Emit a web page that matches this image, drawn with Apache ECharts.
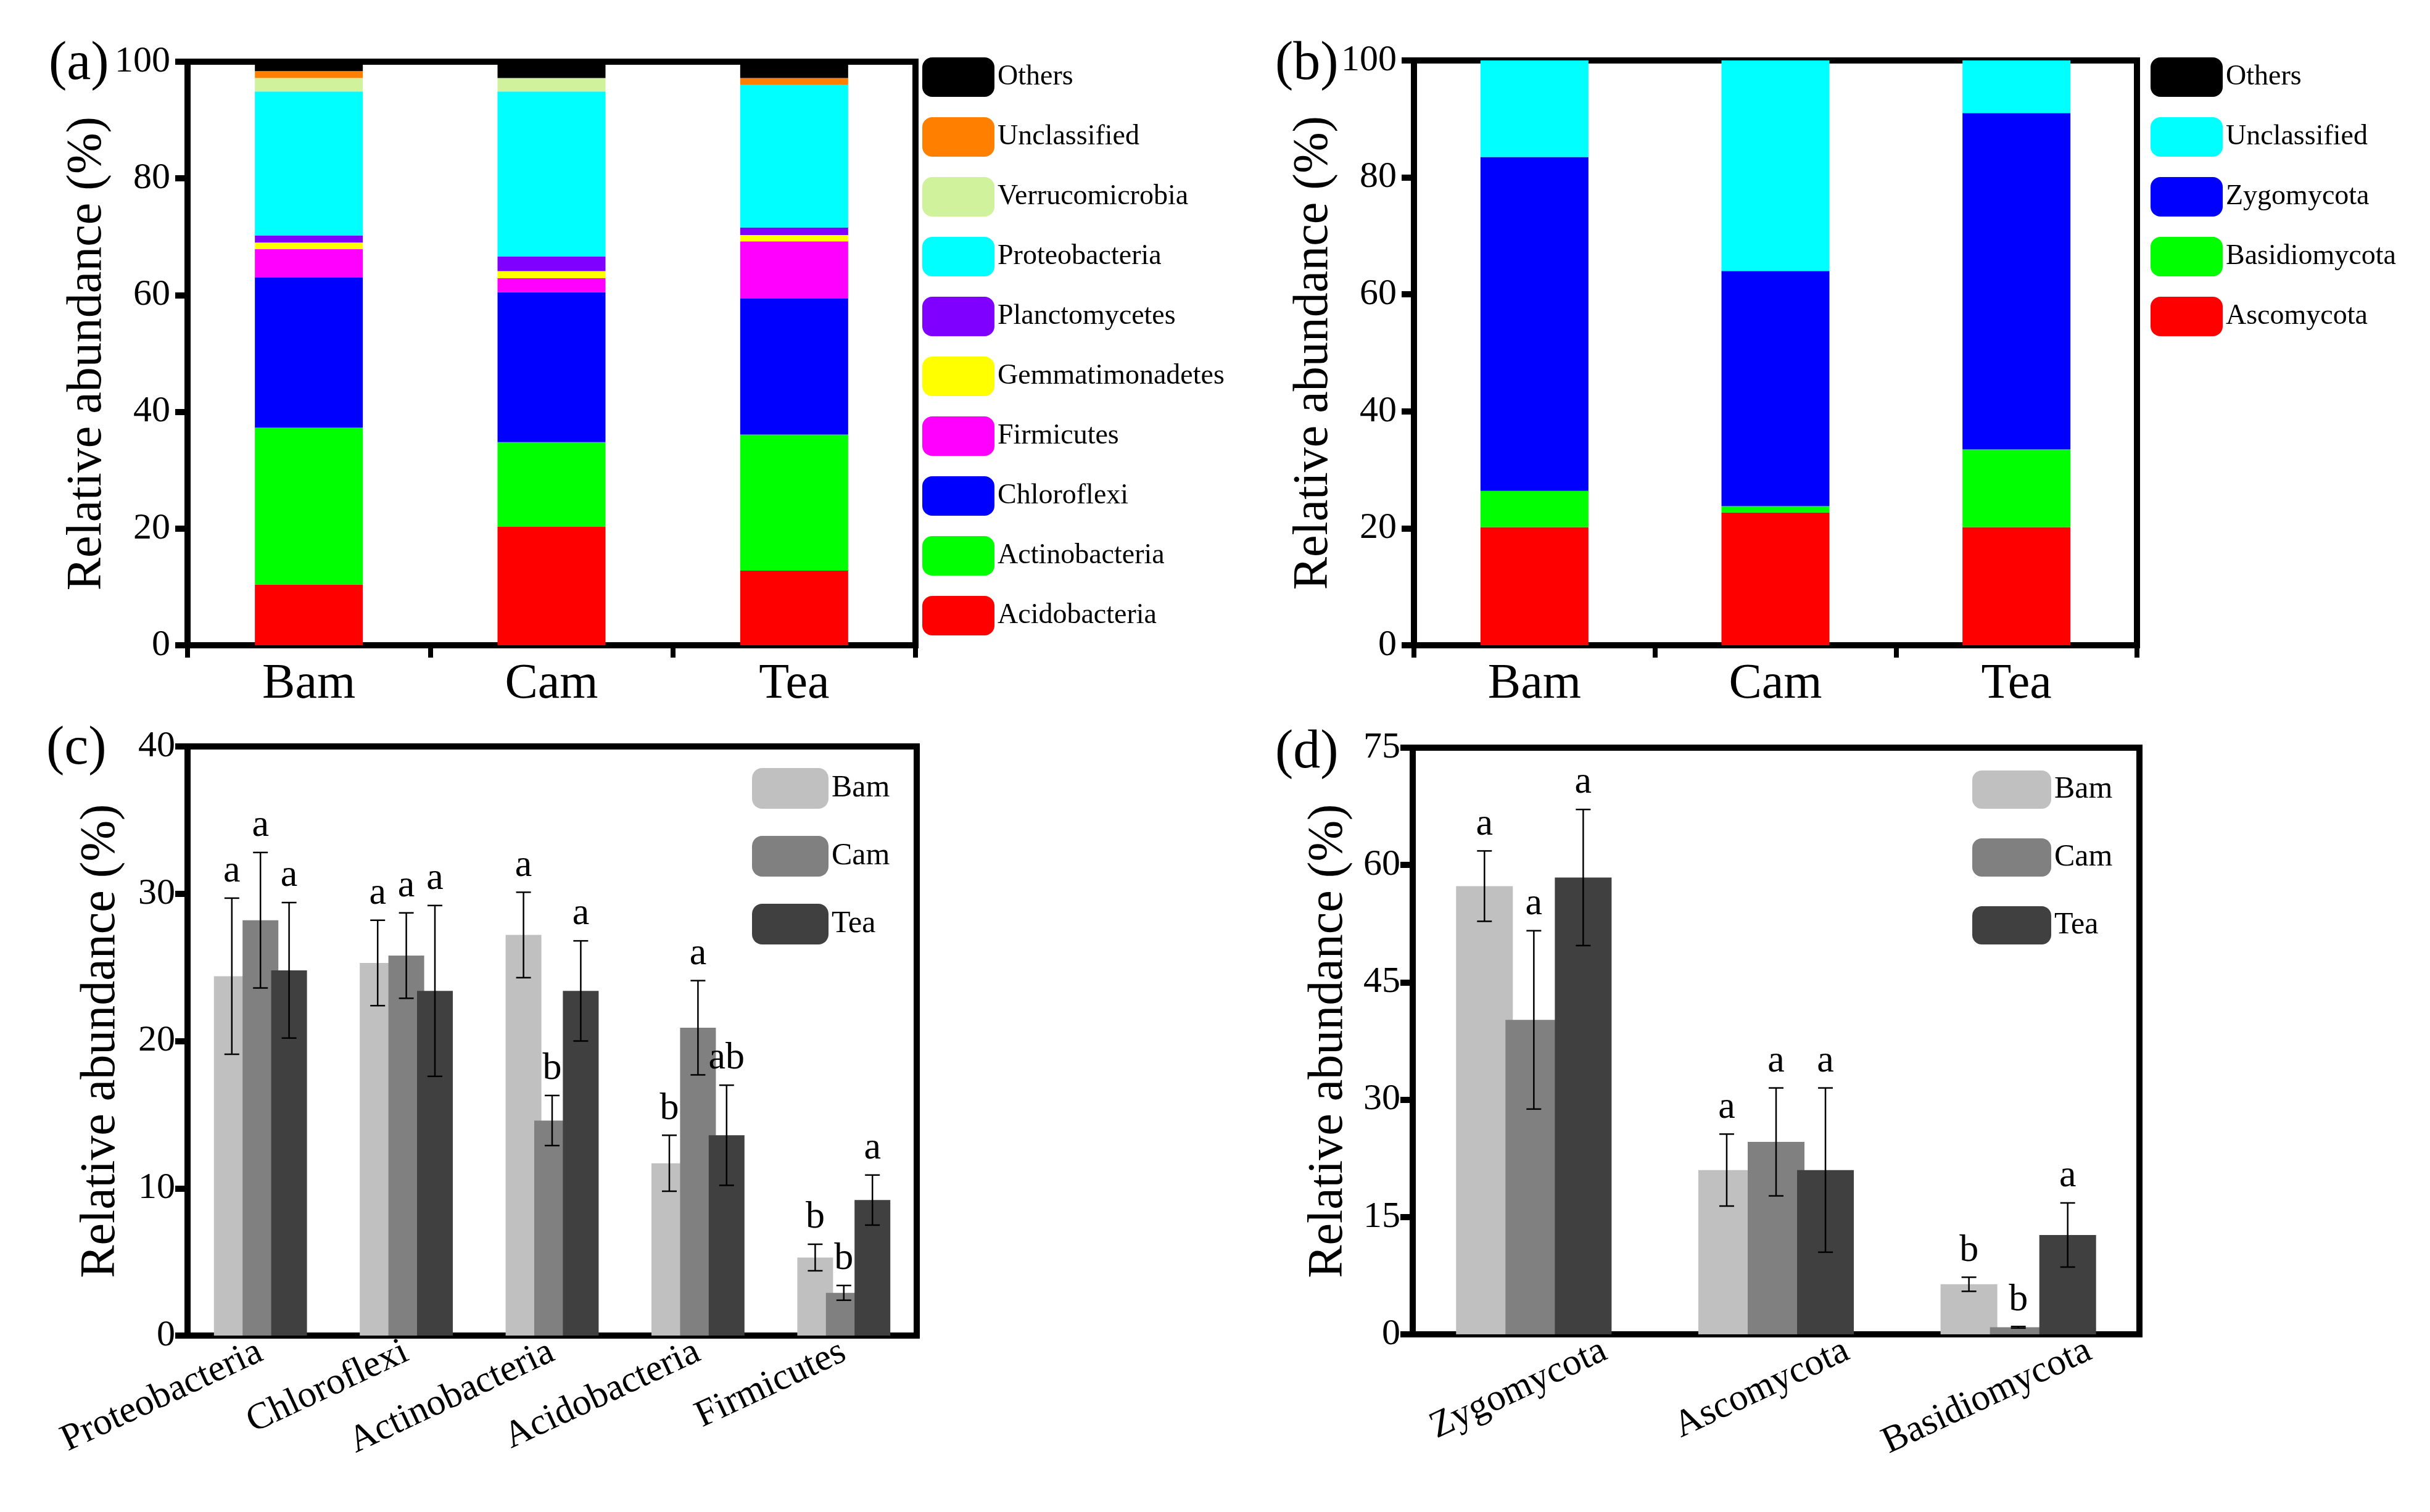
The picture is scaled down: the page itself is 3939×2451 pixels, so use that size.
<!DOCTYPE html>
<html>
<head>
<meta charset="utf-8">
<script src="https://cdn.jsdelivr.net/npm/echarts@6/dist/echarts.min.js"></script>
<style>
  html, body { margin: 0; padding: 0; background: #fff; }
  #main { width: 3939px; height: 2451px; }
</style>
</head>
<body>
<div id="main"></div>
<script>
var groups = ['Bam', 'Cam', 'Tea'];

// (a) bacterial phyla, stacked bottom -> top
var bacPhyla = ['Acidobacteria', 'Actinobacteria', 'Chloroflexi', 'Firmicutes', 'Gemmatimonadetes',
    'Planctomycetes', 'Proteobacteria', 'Verrucomicrobia', 'Unclassified', 'Others'];
var bacColors = ['#ff0000', '#00ff00', '#0000ff', '#ff00ff', '#ffff00',
    '#8000ff', '#00ffff', '#d0f29c', '#ff8000', '#000000'];
var bacBam = [10.4, 26.9, 25.7, 4.9, 1.1, 1.2, 24.7, 2.3, 1.2, 1.6];
var bacCam = [20.3, 14.5, 25.7, 2.4, 1.2, 2.5, 28.3, 2.3, 0, 2.8];
var bacTea = [12.8, 23.3, 23.3, 9.8, 1.1, 1.3, 24.4, 0, 1.2, 2.8];

// (b) fungal phyla, stacked bottom -> top
var fungPhyla = ['Ascomycota', 'Basidiomycota', 'Zygomycota', 'Unclassified', 'Others'];
var fungColors = ['#ff0000', '#00ff00', '#0000ff', '#00ffff', '#000000'];
var fungBam = [20.2, 6.2, 57.1, 16.5, 0];
var fungCam = [22.7, 1.1, 40.2, 36.0, 0];
var fungTea = [20.2, 13.3, 57.5, 9.0, 0];

// (c) dominant bacterial phyla, mean / sd / letters
var bacTop = ['Proteobacteria', 'Chloroflexi', 'Actinobacteria', 'Acidobacteria', 'Firmicutes'];
var cBam = [24.4, 25.3, 27.2, 11.7, 5.3];
var cBamSd = [5.3, 2.9, 2.9, 1.9, 0.9];
var cBamSig = ['a', 'a', 'a', 'b', 'b'];
var cCam = [28.2, 25.8, 14.6, 20.9, 2.9];
var cCamSd = [4.6, 2.9, 1.7, 3.2, 0.5];
var cCamSig = ['a', 'a', 'b', 'a', 'b'];
var cTea = [24.8, 23.4, 23.4, 13.6, 9.2];
var cTeaSd = [4.6, 5.8, 3.4, 3.4, 1.7];
var cTeaSig = ['a', 'a', 'a', 'ab', 'a'];

// (d) dominant fungal phyla
var fungTop = ['Zygomycota', 'Ascomycota', 'Basidiomycota'];
var dBam = [57.3, 21.0, 6.4];
var dBamSd = [4.5, 4.6, 0.9];
var dBamSig = ['a', 'a', 'b'];
var dCam = [40.2, 24.6, 0.9];
var dCamSd = [11.4, 6.9, 0.1];
var dCamSig = ['a', 'a', 'b'];
var dTea = [58.4, 21.0, 12.7];
var dTeaSd = [8.7, 10.5, 4.1];
var dTeaSig = ['a', 'a', 'a'];

var grayColors = ['#c0c0c0', '#808080', '#404040'];

var FONT = '"Liberation Serif", "Times New Roman", serif';
var chart = echarts.init(document.getElementById('main'));

function frameGrid(left, top, width, height) {
    return {
        left: left, top: top, width: width, height: height,
        show: true, borderColor: '#000', borderWidth: 10, backgroundColor: 'transparent'
    };
}

function yAxisOf(gridIndex, max, interval, gap, margin) {
    return {
        type: 'value', gridIndex: gridIndex, min: 0, max: max, interval: interval,
        name: 'Relative abundance (%)', nameLocation: 'middle', nameGap: gap,
        nameTextStyle: { fontFamily: FONT, fontSize: 80, color: '#000' },
        splitLine: { show: false },
        axisLine: { show: true, lineStyle: { color: '#000', width: 10 } },
        axisTick: { show: true, length: 20, lineStyle: { color: '#000', width: 10 } },
        axisLabel: { fontFamily: FONT, fontSize: 60, color: '#000', margin: margin }
    };
}

function stackSeries(names, colors, rows, axis, stack, prefix) {
    return names.map(function (name, k) {
        return {
            name: prefix + name, type: 'bar', stack: stack,
            xAxisIndex: axis, yAxisIndex: axis, barWidth: 175,
            itemStyle: { color: colors[k] },
            data: rows.map(function (r) { return r[k]; })
        };
    });
}

// error bars + significance letters on grouped bars
function errorSeries(axis, means, sds, sigs, slot, step) {
    return {
        type: 'custom', xAxisIndex: axis, yAxisIndex: axis, z: 10, silent: true,
        data: means.map(function (m, i) { return [i, m + sds[i], m - sds[i]]; }),
        encode: { x: 0, y: [1, 2] },
        renderItem: function (params, api) {
            var hi = api.coord([api.value(0), api.value(1)]);
            var lo = api.coord([api.value(0), api.value(2)]);
            var x = hi[0] + slot * step;
            var cap = 12;
            var st = { stroke: '#000', lineWidth: 2.5 };
            return {
                type: 'group', children: [
                    { type: 'line', shape: { x1: x, y1: hi[1], x2: x, y2: lo[1] }, style: st },
                    { type: 'line', shape: { x1: x - cap, y1: hi[1], x2: x + cap, y2: hi[1] }, style: st },
                    { type: 'line', shape: { x1: x - cap, y1: lo[1], x2: x + cap, y2: lo[1] }, style: st },
                    {
                        type: 'text', x: x, y: hi[1] - 12,
                        style: {
                            text: sigs[params.dataIndex], fill: '#000', fontSize: 62,
                            fontFamily: FONT, align: 'center', verticalAlign: 'bottom'
                        }
                    }
                ]
            };
        }
    };
}

function groupSeries(axis, lists, bw, gap) {
    var out = [];
    lists.forEach(function (l, i) {
        out.push({
            name: groups[i], type: 'bar', xAxisIndex: axis, yAxisIndex: axis,
            barWidth: bw, barGap: gap, itemStyle: { color: grayColors[i] },
            data: l.mean
        });
    });
    var step = bw * (1 + parseFloat(gap) / 100);
    lists.forEach(function (l, i) {
        out.push(errorSeries(axis, l.mean, l.sd, l.sig, i - 1, step));
    });
    return out;
}

var catLabel = { fontFamily: FONT, fontSize: 80, color: '#000', margin: 24 };
var rotLabel = { fontFamily: FONT, fontSize: 61, color: '#000', margin: 24, rotate: 25, interval: 0 };
var thickLine = { show: true, lineStyle: { color: '#000', width: 10 } };

var legendBase = {
    orient: 'vertical', selectedMode: false, icon: 'roundRect',
    textStyle: { fontFamily: FONT, fontSize: 46, color: '#000' }
};

var option = {
    backgroundColor: '#fff',
    animation: false,
    textStyle: { fontFamily: FONT },
    title: [
        { text: '(a)', left: 74, top: 56 },
        { text: '(b)', left: 2062, top: 56 },
        { text: '(c)', left: 70, top: 1166 },
        { text: '(d)', left: 2062, top: 1172 }
    ].map(function (t) {
        t.textStyle = { fontFamily: FONT, fontSize: 88, fontWeight: 'normal', color: '#000' };
        return t;
    }),
    legend: [
        Object.assign({}, legendBase, {
            left: 1490, top: 88, itemWidth: 117, itemHeight: 64, itemGap: 33, itemTextGap: 8,
            data: bacPhyla.slice().reverse()
        }),
        Object.assign({}, legendBase, {
            left: 3481, top: 88, itemWidth: 117, itemHeight: 64, itemGap: 33, itemTextGap: 8,
            data: fungPhyla.slice().reverse().map(function (n) { return 'F:' + n; }),
            formatter: function (n) { return n.replace(/^F:/, ''); }
        }),
        Object.assign({}, legendBase, {
            left: 1214, top: 1240, itemWidth: 124, itemHeight: 66, itemGap: 44, itemTextGap: 8,
            textStyle: { fontFamily: FONT, fontSize: 50, color: '#000' },
            data: groups
        }),
        Object.assign({}, legendBase, {
            left: 3192, top: 1244, itemWidth: 128, itemHeight: 62, itemGap: 48, itemTextGap: 14,
            textStyle: { fontFamily: FONT, fontSize: 50, color: '#000' },
            data: groups
        })
    ],
    grid: [
        frameGrid(304, 100, 1180, 946),
        frameGrid(2292, 98, 1172, 948),
        frameGrid(304, 1210, 1182, 955),
        frameGrid(2290, 1212, 1178, 951),
        // label-only grid for panel (d) category names (they sit right of the ticks)
        { left: 2405, top: 1212, width: 1178, height: 951, show: false }
    ],
    xAxis: [
        { type: 'category', gridIndex: 0, data: groups, axisLine: thickLine,
          axisTick: { show: true, length: 20, lineStyle: { color: '#000', width: 8 } }, axisLabel: catLabel },
        { type: 'category', gridIndex: 1, data: groups, axisLine: thickLine,
          axisTick: { show: true, length: 20, lineStyle: { color: '#000', width: 8 } }, axisLabel: catLabel },
        { type: 'category', gridIndex: 2, data: bacTop, axisLine: thickLine,
          axisTick: { show: false }, axisLabel: rotLabel },
        { type: 'category', gridIndex: 3, data: fungTop, axisLine: thickLine,
          axisTick: { show: false }, axisLabel: { show: false } },
        { type: 'category', gridIndex: 4, data: fungTop, axisLine: { show: false },
          axisTick: { show: false }, axisLabel: rotLabel }
    ],
    yAxis: [
        yAxisOf(0, 100, 20, 112, 28),
        yAxisOf(1, 100, 20, 112, 28),
        yAxisOf(2, 40, 10, 100, 20),
        yAxisOf(3, 75, 15, 96, 20),
        { type: 'value', gridIndex: 4, show: false, min: 0, max: 75 }
    ],
    series: [].concat(
        stackSeries(bacPhyla, bacColors, [bacBam, bacCam, bacTea], 0, 'bac', ''),
        stackSeries(fungPhyla, fungColors, [fungBam, fungCam, fungTea], 1, 'fung', 'F:'),
        groupSeries(2, [
            { mean: cBam, sd: cBamSd, sig: cBamSig },
            { mean: cCam, sd: cCamSd, sig: cCamSig },
            { mean: cTea, sd: cTeaSd, sig: cTeaSig }
        ], 58, '-20%'),
        groupSeries(3, [
            { mean: dBam, sd: dBamSd, sig: dBamSig },
            { mean: dCam, sd: dCamSd, sig: dCamSig },
            { mean: dTea, sd: dTeaSd, sig: dTeaSig }
        ], 92, '-13%')
    )
};

option && chart.setOption(option);
</script>
</body>
</html>
